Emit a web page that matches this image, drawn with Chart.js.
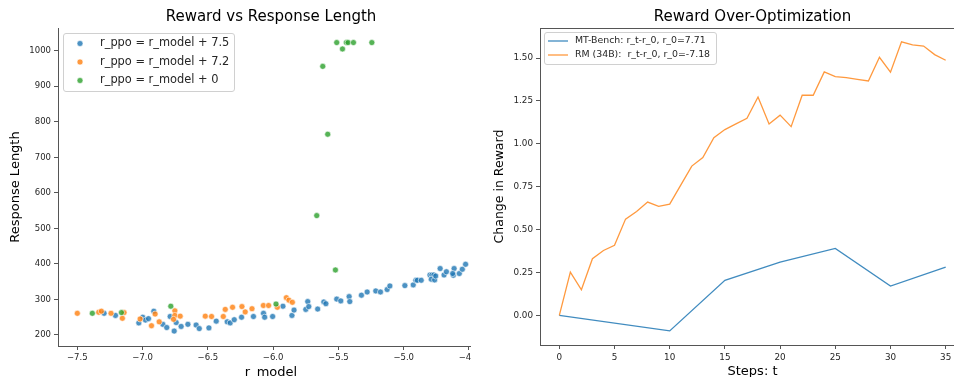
<!DOCTYPE html>
<html>
<head>
<meta charset="utf-8">
<script src="https://cdn.jsdelivr.net/npm/chart.js@4.4.1/dist/chart.umd.min.js"></script>
<style>
  body { margin: 0; background: #fff; width: 954px; height: 377px; overflow: hidden; position: relative; }
  .panel { position: absolute; top: 0; height: 377px; overflow: hidden; }
  #left { left: 0; width: 471px; }
  #right { left: 480px; width: 474px; }
  canvas { display: block; }
</style>
</head>
<body>
<div class="panel" id="left"><canvas id="scatter" width="500" height="385" style="width:500px;height:385px"></canvas></div>
<div class="panel" id="right"><canvas id="lines" width="500" height="385" style="width:500px;height:385px"></canvas></div>
<script>
// ---- left panel: reward vs response length ----
var blueReward = [-7.295,-7.208,-7.029,-6.999,-6.978,-6.955,-6.914,-6.845,-6.815,-6.789,
    -6.758,-6.743,-6.705,-6.653,-6.59,-6.566,-6.492,-6.436,-6.352,-6.329,
    -6.298,-6.242,-6.151,-6.074,-6.065,-6.004,-5.925,-5.856,-5.84,-5.75,
    -5.735,-5.727,-5.659,-5.612,-5.596,-5.513,-5.482,-5.418,-5.413,-5.324,
    -5.28,-5.214,-5.178,-5.127,-5.106,-4.991,-4.927,-4.907,-4.896,-4.866,
    -4.799,-4.784,-4.769,-4.789,-4.763,-4.755,-4.721,-4.691,-4.673,-4.62,
    -4.614,-4.625,-4.574,-4.551,-4.526];
var blueLength = [261,255,234,250,242,246,267,230,221,252,
    211,235,224,230,228,218,220,239,237,234,
    243,250,252,261,250,252,281,255,270,272,
    294,280,273,293,288,301,296,308,294,312,
    321,324,321,328,338,339,341,354,354,354,
    369,369,369,357,355,366,387,369,378,368,
    387,373,373,385,399];

var orangeReward = [-7.5,-7.336,-7.316,-7.242,-7.142,-7.155,-7.019,-6.932,-6.904,-6.873,
    -6.753,-6.753,-6.763,-6.712,-6.52,-6.472,-6.382,-6.367,-6.311,-6.239,
    -6.214,-6.162,-6.075,-6.035,-5.968,-5.899,-5.879,-5.853];
var orangeLength = [261,264,267,261,263,247,245,226,259,237,
    268,255,244,253,253,252,252,272,278,280,
    265,274,283,283,278,305,298,292];

var greenReward = [-7.385,-7.162,-6.784,-5.978,-5.666,-5.523,-5.582,-5.62,-5.513,-5.469,-5.439,-5.426,-5.385,-5.244];
var greenLength = [261,263,281,287,536,383,765,956,1023,1005,1023,1023,1023,1023];

var leftXTicks = [-7.5,-7.0,-6.5,-6.0,-5.5,-5.0,-4.5];
var leftYTicks = [200,300,400,500,600,700,800,900,1000];

// ---- right panel: reward over-optimization ----
var benchSteps = [0,10,15,20,25,30,35];
var benchDelta = [0,-0.091,0.204,0.31,0.39,0.171,0.281];

var rmSteps = [0,1,2,3,4,5,6,7,8,9,10,11,12,13,14,15,16,17,18,19,20,21,22,23,24,25,26,27,28,29,30,31,32,33,34,35];
var rmDelta = [0,0.252,0.149,0.33,0.378,0.408,0.561,0.605,0.66,0.635,
    0.648,0.759,0.87,0.92,1.036,1.083,1.116,1.149,1.273,1.116,
    1.167,1.10,1.283,1.283,1.419,1.392,1.386,1.376,1.366,1.504,
    1.417,1.594,1.576,1.57,1.52,1.487];

var rightXTicks = [0,5,10,15,20,25,30,35];
var rightYTicks = [0,0.25,0.5,0.75,1.0,1.25,1.5];

var BLUE = '#1f77b4', ORANGE = '#ff7f0e', GREEN = '#2ca02c';
var SPINE = '#555555', TEXT = '#262626';

Chart.defaults.font.family = "'DejaVu Sans', sans-serif";
Chart.defaults.color = TEXT;

function pts(xs, ys) {
    return xs.map(function (x, i) { return { x: x, y: ys[i] }; });
}
function fade(hex, a) {
    var n = parseInt(hex.slice(1), 16);
    return 'rgba(' + (n >> 16) + ',' + ((n >> 8) & 255) + ',' + (n & 255) + ',' + a + ')';
}
function fixedTicks(list) {
    return function (scale) { scale.ticks = list.map(function (v) { return { value: v }; }); };
}

// title centred over the plot area
var plotTitle = {
    id: 'plotTitle',
    afterDraw: function (chart, args, opts) {
        var ctx = chart.ctx, a = chart.chartArea;
        ctx.save();
        ctx.font = '15px "DejaVu Sans"';
        ctx.fillStyle = '#000';
        ctx.textAlign = 'center';
        ctx.textBaseline = 'middle';
        ctx.fillText(opts.text, (a.left + a.right) / 2, opts.y);
        ctx.restore();
    }
};

// matplotlib-like legend box inside the axes
var legendBox = {
    id: 'legendBox',
    afterDraw: function (chart, args, o) {
        var ctx = chart.ctx;
        ctx.save();
        ctx.fillStyle = 'rgba(255,255,255,0.85)';
        ctx.strokeStyle = '#d0d0d0';
        ctx.lineWidth = 1;
        ctx.beginPath();
        ctx.roundRect(o.x + 0.5, o.y + 0.5, o.w, o.h, 2.5);
        ctx.fill();
        ctx.stroke();
        ctx.font = o.size + 'px "DejaVu Sans"';
        ctx.textBaseline = 'middle';
        ctx.textAlign = 'left';
        chart.data.datasets.forEach(function (ds, i) {
            var y = o.y + o.first + i * o.row;
            if (o.kind === 'dot') {
                ctx.beginPath();
                ctx.arc(o.x + o.mx, y, 3, 0, Math.PI * 2);
                ctx.fillStyle = ds.backgroundColor;
                ctx.fill();
                ctx.strokeStyle = '#fff';
                ctx.lineWidth = 0.6;
                ctx.stroke();
            } else {
                ctx.beginPath();
                ctx.moveTo(o.x + o.mx, y);
                ctx.lineTo(o.x + o.mx + 20, y);
                ctx.strokeStyle = ds.borderColor;
                ctx.lineWidth = 1.3;
                ctx.stroke();
            }
            ctx.fillStyle = TEXT;
            ctx.fillText(ds.label, o.x + o.tx, y);
        });
        ctx.restore();
    }
};

// top and right spine for the boxed panel
var boxFrame = {
    id: 'boxFrame',
    afterDraw: function (chart) {
        var ctx = chart.ctx, a = chart.chartArea;
        ctx.save();
        ctx.strokeStyle = SPINE;
        ctx.lineWidth = 1;
        ctx.beginPath();
        ctx.moveTo(a.left, Math.round(a.top) + 0.5);
        ctx.lineTo(a.right, Math.round(a.top) + 0.5);
        ctx.lineTo(a.right, a.bottom);
        ctx.stroke();
        ctx.restore();
    }
};

function axis(min, max, ticks, fmt, size, fit, titleText, titlePad, titleSize) {
    return {
        type: 'linear',
        min: min,
        max: max,
        afterBuildTicks: fixedTicks(ticks),
        afterFit: fit,
        ticks: { font: { size: size }, color: TEXT, padding: 3, callback: fmt },
        grid: { drawOnChartArea: false, tickLength: 4, color: SPINE },
        border: { color: SPINE, width: 1 },
        title: { display: true, text: titleText, color: '#000', font: { size: titleSize }, padding: titlePad }
    };
}

new Chart(document.getElementById('scatter'), {
    type: 'scatter',
    data: {
        datasets: [
            { label: 'r_ppo = r_model + 7.5', data: pts(blueReward, blueLength), backgroundColor: fade(BLUE, 0.8), order: 2 },
            { label: 'r_ppo = r_model + 7.2', data: pts(orangeReward, orangeLength), backgroundColor: fade(ORANGE, 0.8), order: 1 },
            { label: 'r_ppo = r_model + 0', data: pts(greenReward, greenLength), backgroundColor: fade(GREEN, 0.8), order: 0 }
        ]
    },
    options: {
        responsive: false,
        animation: false,
        layout: { padding: { top: 28, right: 16, left: 0, bottom: 0 } },
        elements: { point: { radius: 3, borderColor: '#ffffff', borderWidth: 0.6 } },
        scales: {
            x: axis(-7.648, -4.385, leftXTicks, function (v) { return v.toFixed(1).replace('-', '\u2212'); }, 8.5,
                function (s) { s.height = 39; }, 'r_model', { top: 0, bottom: 5 }, 13),
            y: axis(169, 1064, leftYTicks, function (v) { return String(v); }, 8.5,
                function (s) { s.width = 58; }, 'Response Length', { top: 7.5, bottom: 0 }, 13)
        },
        plugins: {
            legend: { display: false },
            tooltip: { enabled: false },
            plotTitle: { text: 'Reward vs Response Length', y: 17 },
            legendBox: { kind: 'dot', x: 63, y: 33, w: 171, h: 58, mx: 17, tx: 37, first: 10.5, row: 18.5, size: 11.4 }
        }
    },
    plugins: [plotTitle, legendBox]
});

new Chart(document.getElementById('lines'), {
    type: 'line',
    data: {
        datasets: [
            { label: 'MT-Bench: r_t-r_0, r_0=7.71', data: pts(benchSteps, benchDelta), borderColor: fade(BLUE, 0.85), order: 1 },
            { label: 'RM (34B):  r_t-r_0, r_0=-7.18', data: pts(rmSteps, rmDelta), borderColor: fade(ORANGE, 0.8), order: 0 }
        ]
    },
    options: {
        responsive: false,
        animation: false,
        layout: { padding: { top: 28, right: 15, left: 0, bottom: 0 } },
        elements: { point: { radius: 0 }, line: { borderWidth: 1.3, tension: 0 } },
        scales: {
            x: axis(-1.75, 36.75, rightXTicks, function (v) { return String(v); }, 8.8,
                function (s) { s.height = 40; }, 'Steps: t', { top: 0, bottom: 5.5 }, 13),
            y: axis(-0.173, 1.675, rightYTicks, function (v) { return v.toFixed(2); }, 8.8,
                function (s) { s.width = 60; }, 'Change in Reward', { top: 12.5, bottom: 0 }, 12.5)
        },
        plugins: {
            legend: { display: false },
            tooltip: { enabled: false },
            plotTitle: { text: 'Reward Over-Optimization', y: 17 },
            legendBox: { kind: 'line', x: 64, y: 32, w: 172, h: 32, mx: 4, tx: 31, first: 9, row: 14, size: 9.4 }
        }
    },
    plugins: [plotTitle, legendBox, boxFrame]
});
</script>
</body>
</html>
